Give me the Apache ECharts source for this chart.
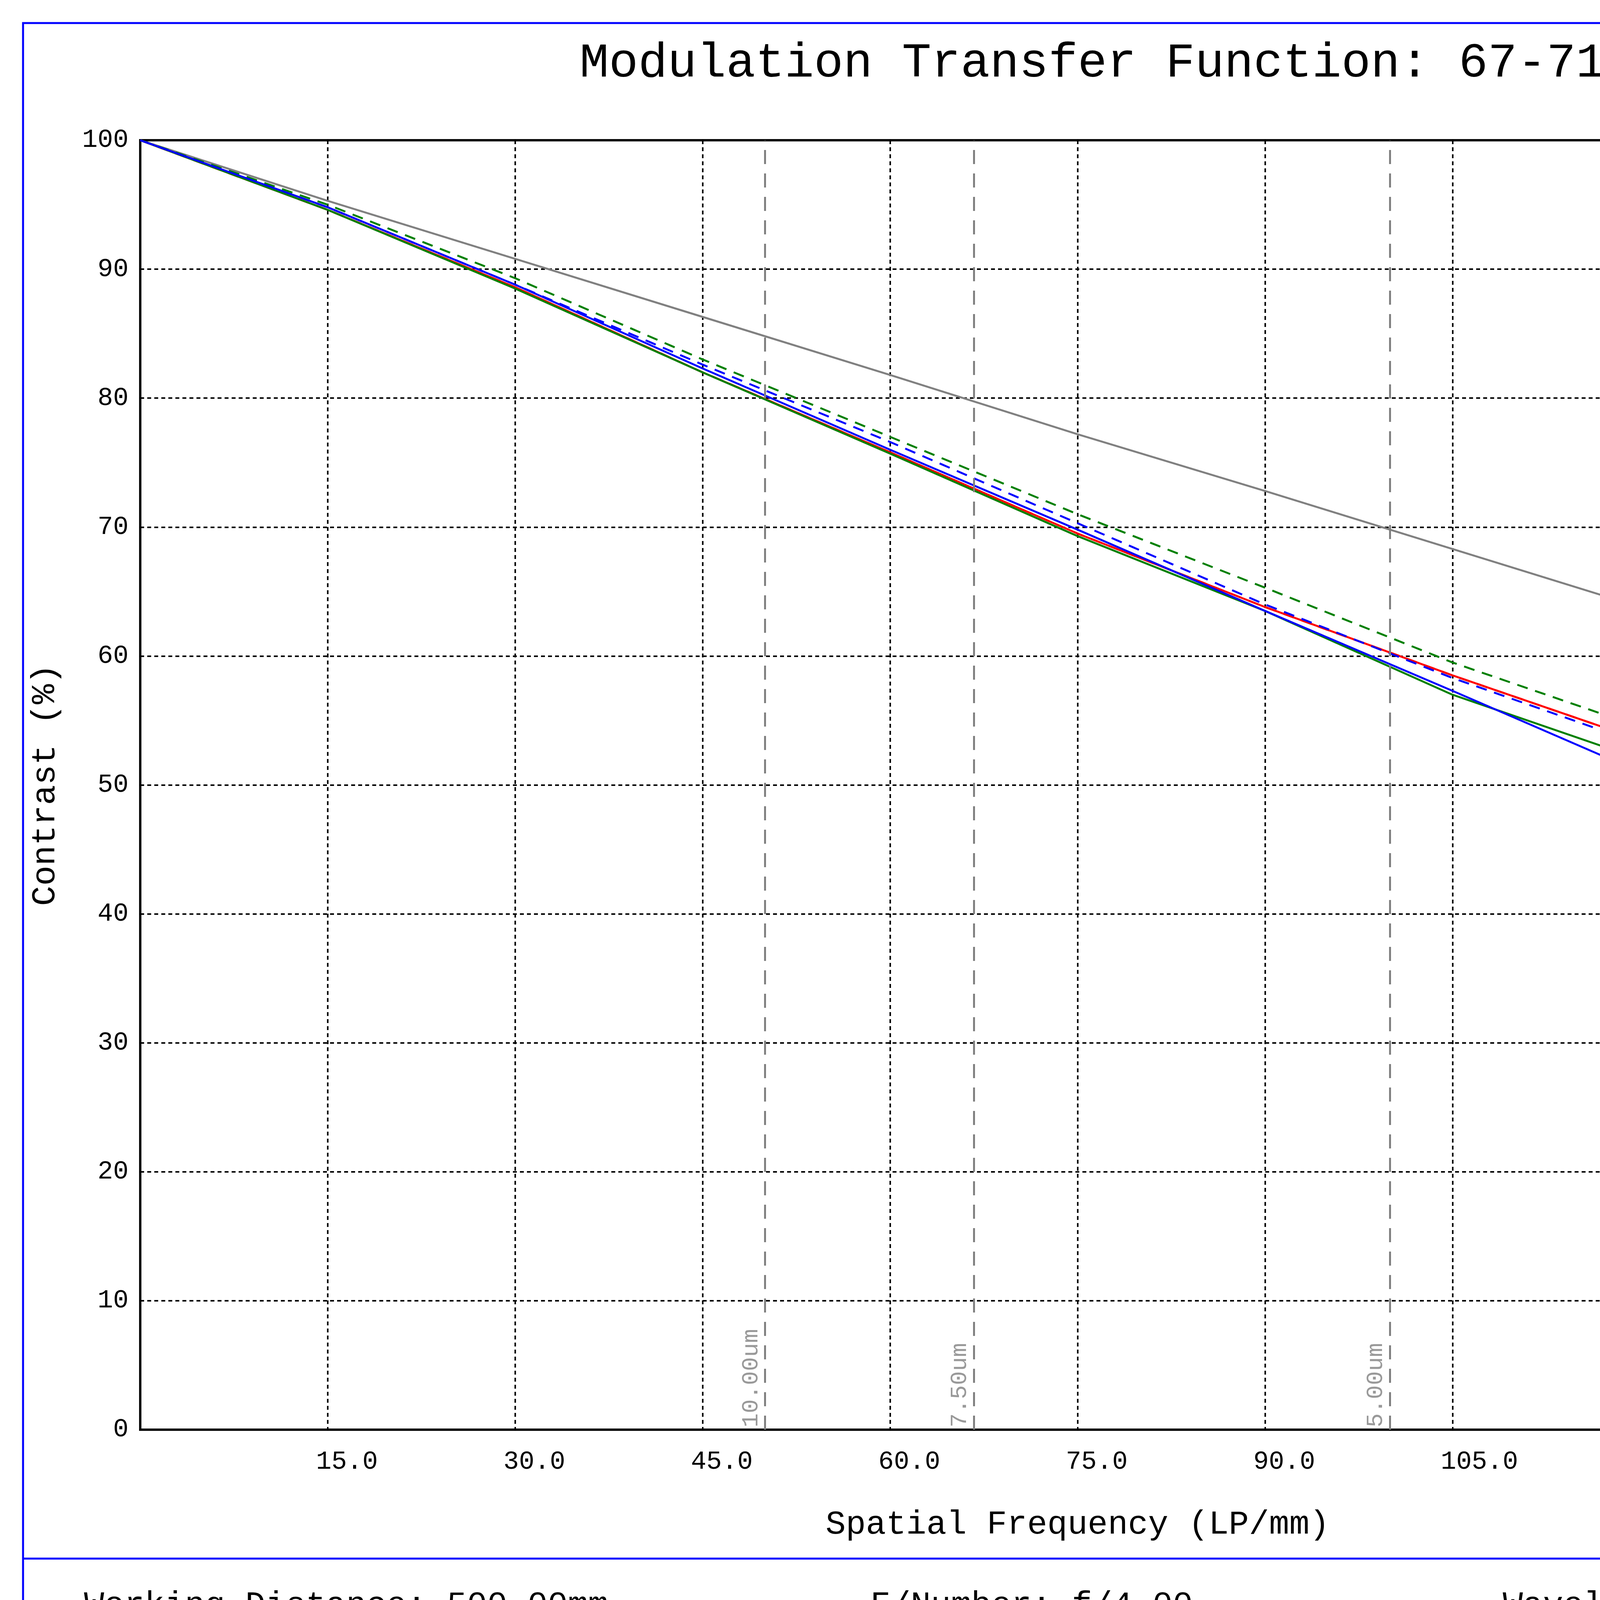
<!DOCTYPE html>
<html><head><meta charset="utf-8">
<script src="https://cdn.jsdelivr.net/npm/echarts@6/dist/echarts.min.js"></script>
<style>html,body{margin:0;padding:0;background:#fff}#c{width:6118px;height:4327px}</style>
</head><body><div id="c"></div>
<script>
const freq = [0, 15, 30, 45, 60, 75, 90, 105, 120, 135, 150];
const diffLimit = [100, 95.3, 90.8, 86.3, 81.8, 77.2, 72.8, 68.3, 63.8, 59.5, 55.0];
const ts000T = [100, 94.6, 88.6, 82.0, 75.8, 69.5, 63.8, 58.5, 53.5, 49.5, 45.3];
const ts000S = [100, 94.6, 88.6, 82.0, 75.8, 69.5, 63.8, 58.5, 53.5, 49.5, 45.3];
const ts400T = [100, 94.6, 88.5, 82.0, 75.7, 69.3, 63.5, 57.0, 52.0, 47.8, 43.8];
const ts400S = [100, 95.0, 89.3, 83.0, 77.0, 71.0, 65.3, 59.5, 54.5, 49.8, 45.2];
const ts550T = [100, 94.8, 88.8, 82.3, 76.0, 69.8, 63.5, 57.3, 51.0, 46.0, 41.4];
const ts550S = [100, 94.8, 88.8, 82.6, 76.6, 70.3, 64.0, 58.3, 53.2, 48.8, 44.6];
const pixelFreqs = [50, 66.7, 100, 144.9];
const pixelLabels = ['10.00um', '7.50um', '5.00um', '3.45um'];
const legendNames = ['Diff. Limit', 'TS,0.00mm', 'TS,4.00mm', 'TS,5.50mm'];
const legendColors = ['#000000', '#ff0000', '#008000', '#0000ff'];

const F = 'Liberation Mono, DejaVu Sans Mono, monospace';
const pts = a => freq.map((x, i) => [x, a[i]]);
function line(data, color, dashed, z) {
  return { type: 'line', data: pts(data), symbol: 'none', z: z || 3, silent: true,
    lineStyle: { color, width: 5, type: dashed ? [28, 20] : 'solid' } };
}
const series = [
  line(diffLimit, '#808080', false),
  line(ts000T, '#ff0000', false), line(ts000S, '#ff0000', true),
  line(ts400T, '#008000', false), line(ts400S, '#008000', true),
  line(ts550T, '#0000ff', false), line(ts550S, '#0000ff', true)
];
series[0].markLine = {
  silent: true, symbol: 'none',
  lineStyle: { color: '#808080', width: 5, type: [36, 24] },
  label: { show: true, position: 'insideStartTop', color: '#999', fontFamily: F, fontSize: 60,
    formatter: p => p.name, distance: 6 },
  data: pixelFreqs.map((x, i) => ({ xAxis: x, name: pixelLabels[i] }))
};

const graphics = [
  { type: 'rect', shape: { x: 59, y: 59, width: 6000, height: 4202 }, style: { fill: 'none', stroke: '#0000ff', lineWidth: 5 } },
  { type: 'line', shape: { x1: 59, y1: 3990, x2: 6059, y2: 3990 }, style: { stroke: '#0000ff', lineWidth: 5 } },
  { type: 'line', shape: { x1: 0, y1: 4316, x2: 6118, y2: 4316 }, style: { stroke: '#000', lineWidth: 6 } },
  { type: 'text', x: 215, y: 4110, style: { text: 'Working Distance: 500.00mm', font: '86px ' + F, fill: '#000', textVerticalAlign: 'middle' } },
  { type: 'text', x: 2228, y: 4110, style: { text: 'F/Number: f/4.00', font: '86px ' + F, fill: '#000', textVerticalAlign: 'middle' } },
  { type: 'text', x: 3847, y: 4110, style: { text: 'Wavelength Range: 486nm-656nm', font: '86px ' + F, fill: '#000', textVerticalAlign: 'middle' } },
  { type: 'text', x: 5221, y: 1241, style: { text: 'Fields', font: '58px ' + F, fill: '#000', textVerticalAlign: 'middle' } }
];
legendNames.forEach((n, i) => {
  const y = 1405 + i * 164;
  graphics.push({ type: 'line', shape: { x1: 5221, y1: y - 8, x2: 5314, y2: y - 8 }, style: { stroke: legendColors[i], lineWidth: 5 } });
  if (i > 0) graphics.push({ type: 'line', shape: { x1: 5221, y1: y + 10, x2: 5314, y2: y + 10 }, style: { stroke: legendColors[i], lineWidth: 5, lineDash: [20, 12] } });
  graphics.push({ type: 'text', x: 5358, y: y, style: { text: n, font: '58px ' + F, fill: '#000', textVerticalAlign: 'middle' } });
});

const chart = echarts.init(document.getElementById('c'), null, { renderer: 'canvas' });
chart.setOption({
  animation: false,
  backgroundColor: '#fff',
  title: { text: 'Modulation Transfer Function: 67-715, 25mm', left: 'center', top: 95,
    textStyle: { fontFamily: F, fontSize: 125, fontWeight: 'normal', color: '#000' } },
  grid: { left: 359, top: 359, right: 960, bottom: 667, show: true, borderColor: '#000', borderWidth: 6 },
  xAxis: { type: 'value', min: 0, max: 150, interval: 15,
    name: 'Spatial Frequency (LP/mm)', nameLocation: 'middle', nameGap: 200,
    nameTextStyle: { fontFamily: F, fontSize: 86, color: '#000' },
    axisLine: { lineStyle: { color: '#000', width: 6 } }, axisTick: { show: false },
    axisLabel: { fontFamily: F, fontSize: 66, color: '#000', margin: 50, align: 'left', padding: [0, 0, 0, -30],
      formatter: v => v === 0 ? '' : v.toFixed(1) },
    splitLine: { show: true, lineStyle: { color: '#000', width: 4, type: [10, 8] } } },
  yAxis: { type: 'value', min: 0, max: 100, interval: 10,
    name: 'Contrast (%)', nameLocation: 'middle', nameGap: 200, nameRotate: 90,
    nameTextStyle: { fontFamily: F, fontSize: 86, color: '#000' },
    axisLine: { lineStyle: { color: '#000', width: 6 } }, axisTick: { show: false },
    axisLabel: { fontFamily: F, fontSize: 66, color: '#000', margin: 30 },
    splitLine: { show: true, lineStyle: { color: '#000', width: 4, type: [10, 8] } } },
  series,
  graphic: graphics
});
</script></body></html>
